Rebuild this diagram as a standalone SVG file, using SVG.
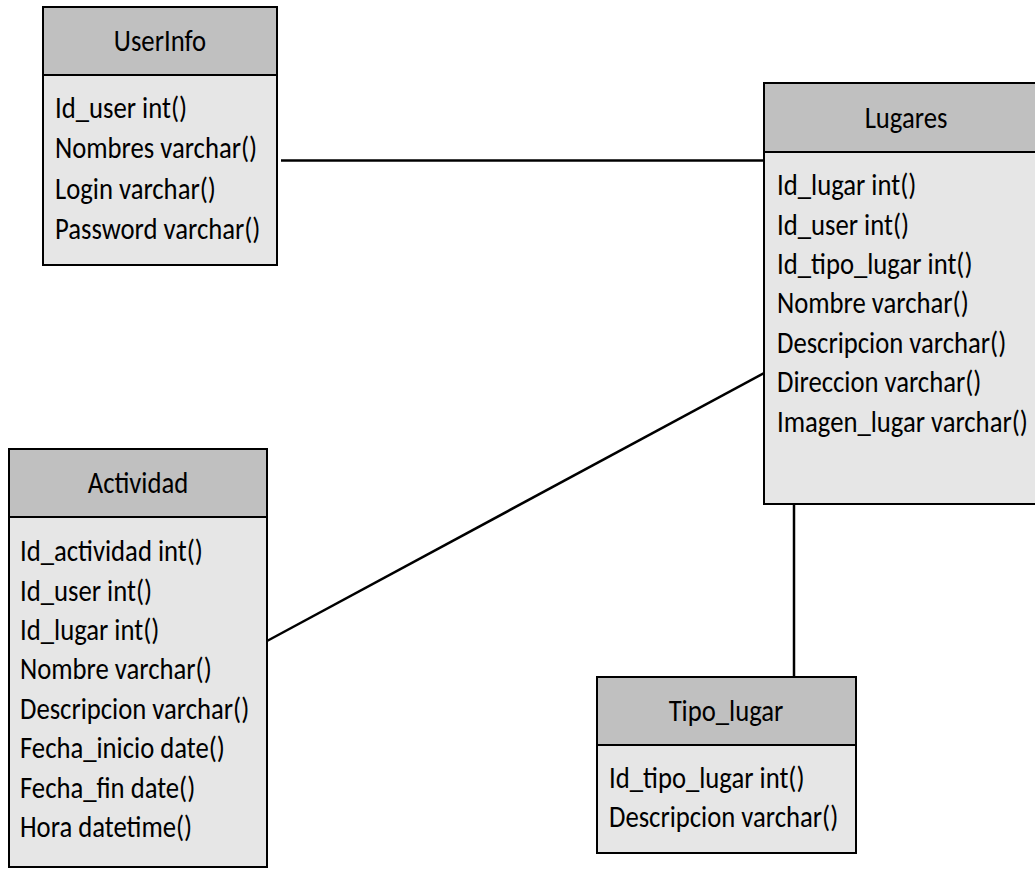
<svg xmlns="http://www.w3.org/2000/svg" width="1035" height="871" viewBox="0 0 1035 871">
  <style>
    .hdr { fill: #c0c0c0; stroke: #000; stroke-width: 2; }
    .body { fill: #e6e6e6; stroke: #000; stroke-width: 2; }
    text { font-family: Carlito, "Liberation Sans Narrow", "Open Sans", sans-serif; font-size: 30.5px; fill: #000; }
    .title { text-anchor: middle; }
    .link { stroke: #000; stroke-width: 2.5; fill: none; }
  </style>
  <rect width="1035" height="871" fill="#fff"/>

  <!-- relationships between tables -->
  <g id="connectors">
    <line class="link" x1="281" y1="160.5" x2="764" y2="160.5"/>
    <line class="link" x1="764" y1="373" x2="267" y2="641"/>
    <line class="link" x1="794" y1="504" x2="794" y2="677"/>
  </g>

  <!-- text is set narrow: horizontal scale 0.875 -->
  <g id="userinfo">
    <rect class="body" x="43" y="75" width="234" height="190"/>
    <rect class="hdr" x="43" y="7" width="234" height="68"/>
    <g transform="translate(160,0) scale(0.875,1)">
      <text class="title" x="0" y="51">UserInfo</text>
    </g>
    <g transform="translate(55,0) scale(0.875,1)">
      <text x="0" y="118">Id_user int()</text>
      <text x="0" y="158.5">Nombres varchar()</text>
      <text x="0" y="199">Login varchar()</text>
      <text x="0" y="239.5">Password varchar()</text>
    </g>
  </g>

  <g id="lugares">
    <rect class="body" x="764" y="152" width="284" height="352"/>
    <rect class="hdr" x="764" y="83" width="284" height="69"/>
    <g transform="translate(906,0) scale(0.875,1)">
      <text class="title" x="0" y="128">Lugares</text>
    </g>
    <g transform="translate(777,0) scale(0.875,1)">
      <text x="0" y="195">Id_lugar int()</text>
      <text x="0" y="235">Id_user int()</text>
      <text x="0" y="274">Id_tipo_lugar int()</text>
      <text x="0" y="313.5">Nombre varchar()</text>
      <text x="0" y="353">Descripcion varchar()</text>
      <text x="0" y="392.5">Direccion varchar()</text>
      <text x="0" y="432">Imagen_lugar varchar()</text>
    </g>
  </g>

  <g id="actividad">
    <rect class="body" x="9" y="517" width="258" height="350"/>
    <rect class="hdr" x="9" y="449" width="258" height="68"/>
    <g transform="translate(138,0) scale(0.875,1)">
      <text class="title" x="0" y="493">Actividad</text>
    </g>
    <g transform="translate(20,0) scale(0.875,1)">
      <text x="0" y="561">Id_actividad int()</text>
      <text x="0" y="601">Id_user int()</text>
      <text x="0" y="640">Id_lugar int()</text>
      <text x="0" y="679.5">Nombre varchar()</text>
      <text x="0" y="719">Descripcion varchar()</text>
      <text x="0" y="758">Fecha_inicio date()</text>
      <text x="0" y="798">Fecha_fin date()</text>
      <text x="0" y="837">Hora datetime()</text>
    </g>
  </g>

  <g id="tipo_lugar">
    <rect class="body" x="597" y="745" width="259" height="108"/>
    <rect class="hdr" x="597" y="677" width="259" height="68"/>
    <g transform="translate(726,0) scale(0.875,1)">
      <text class="title" x="0" y="721">Tipo_lugar</text>
    </g>
    <g transform="translate(609,0) scale(0.875,1)">
      <text x="0" y="788">Id_tipo_lugar int()</text>
      <text x="0" y="827">Descripcion varchar()</text>
    </g>
  </g>
</svg>
